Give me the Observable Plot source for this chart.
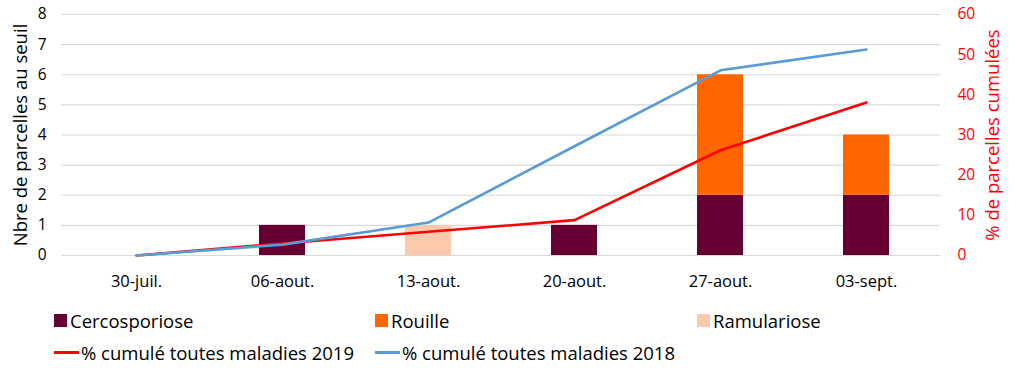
<!DOCTYPE html>
<html>
<head>
<meta charset="utf-8">
<script src="https://cdn.jsdelivr.net/npm/d3@7"></script>
<script src="https://cdn.jsdelivr.net/npm/@observablehq/plot@0.6"></script>
<style>
  body { margin: 0; background: #fff; font-family: "Open Sans", Lato, sans-serif; }
  #wrap { position: relative; width: 1016px; height: 370px; }
  #legend { position: absolute; left: 0; top: 0; width: 1016px; height: 370px; pointer-events: none; }
  .item { position: absolute; font-size: 18.5px; color: #000; display: flex; align-items: center; white-space: nowrap; }
  .sw { display: inline-block; width: 13px; height: 13px; margin-right: 3px; }
  .ln { display: inline-block; width: 25px; height: 3px; margin-right: 2px; }
</style>
</head>
<body>
<div id="wrap">
  <div id="chart"></div>
  <div id="legend"></div>
</div>
<script>
const dates = ["30-juil.", "06-aout.", "13-aout.", "20-aout.", "27-aout.", "03-sept."];
const seriesNames = ["Cercosporiose", "Rouille", "Ramulariose"];
const cercosporiose = [0, 1, 0, 1, 2, 2];
const rouille = [0, 0, 0, 0, 4, 2];
const ramulariose = [0, 0, 1, 0, 0, 0];
const pct2019 = [0, 3.0, 5.9, 8.8, 26.2, 38.1];
const pct2018 = [0, 2.7, 8.2, 27.2, 46.1, 51.3];
const lineNames = ["% cumulé toutes maladies 2019", "% cumulé toutes maladies 2018"];
const leftTicks = [0, 1, 2, 3, 4, 5, 6, 7, 8];
const rightTicks = [0, 10, 20, 30, 40, 50, 60];

const barColors = ["#660033", "#ff6600", "#fdc9ad"];
const lineColors = ["#ff0000", "#5b9bd5"];
const k = 8 / 60;

const bars = [];
[cercosporiose, rouille, ramulariose].forEach((arr, si) => {
  arr.forEach((v, i) => bars.push({date: dates[i], series: seriesNames[si], value: v}));
});
const lines = [];
[pct2019, pct2018].forEach((arr, li) => {
  arr.forEach((v, i) => lines.push({date: dates[i], series: lineNames[li], value: v * k}));
});

const font = "'Open Sans', Lato, sans-serif";

const chart = Plot.plot({
  width: 1016,
  height: 300,
  marginTop: 14,
  marginBottom: 45,
  marginLeft: 61,
  marginRight: 76,
  style: {fontFamily: font, background: "transparent"},
  x: {domain: dates, paddingInner: 0.686, paddingOuter: 0.343, axis: null},
  y: {domain: [0, 8], axis: null},
  color: {domain: [...seriesNames, ...lineNames], range: [...barColors, ...lineColors]},
  marks: [
    Plot.gridY(leftTicks, {stroke: "#d9d9d9", strokeOpacity: 1, strokeWidth: 1.2}),
    Plot.barY(bars, {x: "date", y: "value", fill: "series", order: seriesNames}),
    Plot.line(lines, {x: "date", y: "value", z: "series", stroke: "series", strokeWidth: 2.6}),
    Plot.axisX({tickSize: 0, tickPadding: 20, fontSize: 16.5, color: "#000", label: null}),
    Plot.axisY({ticks: leftTicks, tickSize: 0, tickPadding: 15, fontSize: 15.5, color: "#000",
      label: "Nbre de parcelles au seuil", labelAnchor: "center", labelOffset: 48, labelArrow: "none"}),
    Plot.axisY({anchor: "right", ticks: rightTicks.map(v => v * k), tickFormat: d => String(Math.round(d / k)),
      tickSize: 0, tickPadding: 17, fontSize: 15.5, color: "#ff0000",
      label: "% de parcelles cumulées", labelAnchor: "center", labelOffset: 58, labelArrow: "none"})
  ]
});
chart.querySelectorAll("g[aria-label='y-axis label'] text, g[aria-label='y-axis label']").forEach(el => el.setAttribute("font-size", 18.5));
document.getElementById("chart").appendChild(chart);

const legend = document.getElementById("legend");
const items = [
  {name: seriesNames[0], color: barColors[0], type: "sw", x: 54, y: 320},
  {name: seriesNames[1], color: barColors[1], type: "sw", x: 375, y: 320},
  {name: seriesNames[2], color: barColors[2], type: "sw", x: 697, y: 320},
  {name: lineNames[0], color: lineColors[0], type: "ln", x: 54, y: 352},
  {name: lineNames[1], color: lineColors[1], type: "ln", x: 375, y: 352}
];
items.forEach(it => {
  const d = document.createElement("div");
  d.className = "item";
  d.style.left = it.x + "px";
  d.style.top = (it.y - 11) + "px";
  d.style.height = "22px";
  const s = document.createElement("span");
  s.className = it.type;
  s.style.background = it.color;
  d.appendChild(s);
  d.appendChild(document.createTextNode(it.name));
  legend.appendChild(d);
});
</script>
</body>
</html>
